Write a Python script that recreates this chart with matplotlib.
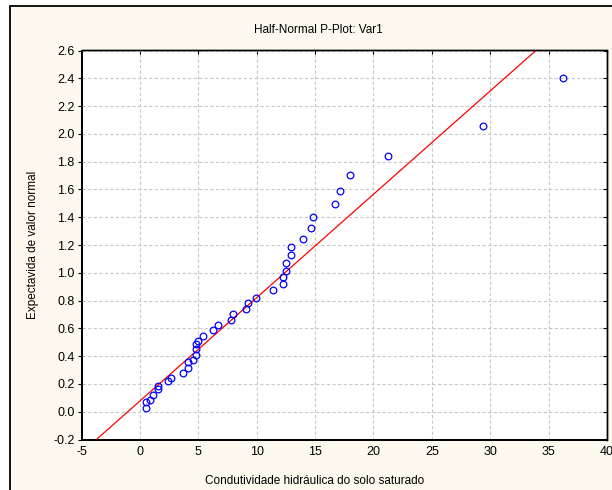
import matplotlib.pyplot as plt
from matplotlib.patches import Rectangle
import numpy as np

# valores (condutividade, valor normal esperado)
condutividade = [
    0.50, 0.50, 0.90, 1.13, 1.56, 1.56, 2.41, 2.64, 3.69, 4.12,
    4.12, 4.55, 4.78, 4.78, 4.78, 4.98, 5.41, 6.26, 6.69, 7.77,
    7.97, 9.05, 9.26, 9.91, 11.39, 12.25, 12.25, 12.47, 12.47, 12.90,
    12.90, 13.96, 14.61, 14.82, 16.75, 17.15, 18.03, 21.23, 29.38, 36.20,
]
valor_normal = [
    0.027, 0.067, 0.081, 0.122, 0.160, 0.182, 0.218, 0.240, 0.278, 0.317,
    0.355, 0.374, 0.410, 0.451, 0.487, 0.511, 0.547, 0.585, 0.624, 0.662,
    0.703, 0.741, 0.779, 0.818, 0.878, 0.916, 0.973, 1.012, 1.070, 1.127,
    1.185, 1.242, 1.321, 1.398, 1.496, 1.592, 1.707, 1.844, 2.055, 2.403,
]

# reta de ajuste
intercepto = 0.077
inclinacao = 0.0744

x_ticks = [-5, 0, 5, 10, 15, 20, 25, 30, 35, 40]
y_ticks = [-0.2, 0.0, 0.2, 0.4, 0.6, 0.8, 1.0, 1.2, 1.4, 1.6, 1.8, 2.0,
           2.2, 2.4, 2.6]

titulo = "Half-Normal P-Plot: Var1"
rotulo_x = "Condutividade hidráulica do solo saturado"
rotulo_y = "Expectavida de valor normal"


def grafico_half_normal(x, y):
    """
    Desenha o gráfico half-normal com a reta de ajuste.

    Retorna :
        fig (Figure) : a figura matplotlib.
    """
    plt.rcParams['font.family'] = ['Liberation Sans', 'DejaVu Sans']

    fig = plt.figure(figsize=(6.12, 4.9), dpi=100, facecolor='white')

    # fundo creme com moldura preta (cortada à direita e em baixo)
    fundo = Rectangle(
        (10 / 612, -0.1), 1.2, 1.1 - 6 / 490,
        transform=fig.transFigure, facecolor='#FDF9EE',
        edgecolor='black', linewidth=1.3, zorder=-10
    )
    fig.patches.append(fundo)

    ax = fig.add_axes([81.5 / 612, 50.5 / 490, 525.5 / 612, 389 / 490])
    ax.set_facecolor('white')

    # reta de ajuste
    xs = np.array([-5, 40])
    ax.plot(xs, intercepto + inclinacao * xs, color='#FF0000',
            linewidth=0.9, zorder=3)

    # pontos
    ax.plot(x, y, linestyle='none', marker='o', markersize=4.8,
            markerfacecolor='none', markeredgecolor='#0000FF',
            markeredgewidth=0.9, zorder=4)

    ax.set_xlim(-5, 40)
    ax.set_ylim(-0.2, 2.6)
    ax.set_xticks(x_ticks)
    ax.set_yticks(y_ticks)
    ax.set_xticklabels([str(t) for t in x_ticks])
    ax.set_yticklabels([f"{t:.1f}" for t in y_ticks])

    ax.grid(True, color='#C8C8C8', linestyle=(0, (3, 2)), linewidth=0.8)
    ax.tick_params(axis='y', direction='out', length=3,
                   labelsize=9, pad=2)
    ax.tick_params(axis='x', direction='in', length=3,
                   labelsize=9, pad=5, top=True, bottom=False)

    # traços do lado direito, para dentro
    ax2 = ax.twinx()
    ax2.set_ylim(ax.get_ylim())
    ax2.set_yticks(y_ticks)
    ax2.tick_params(axis='y', direction='in', length=3, labelright=False)

    for eixo in [ax, ax2]:
        for lado in ['left', 'bottom']:
            eixo.spines[lado].set_linewidth(1.4)
        for lado in ['top', 'right']:
            eixo.spines[lado].set_linewidth(1.0)

    fig.text(318 / 612, 1 - 30 / 490, titulo, ha='center', va='center',
             fontsize=8.5)
    fig.text(315 / 612, 1 - 481 / 490, rotulo_x, ha='center',
             va='center', fontsize=8.5)
    fig.text(33 / 612, 1 - 245 / 490, rotulo_y, ha='center', va='center',
             rotation=90, fontsize=8.5)

    return fig


fig = grafico_half_normal(condutividade, valor_normal)
fig.savefig("out.png", dpi=100, facecolor=fig.get_facecolor())
